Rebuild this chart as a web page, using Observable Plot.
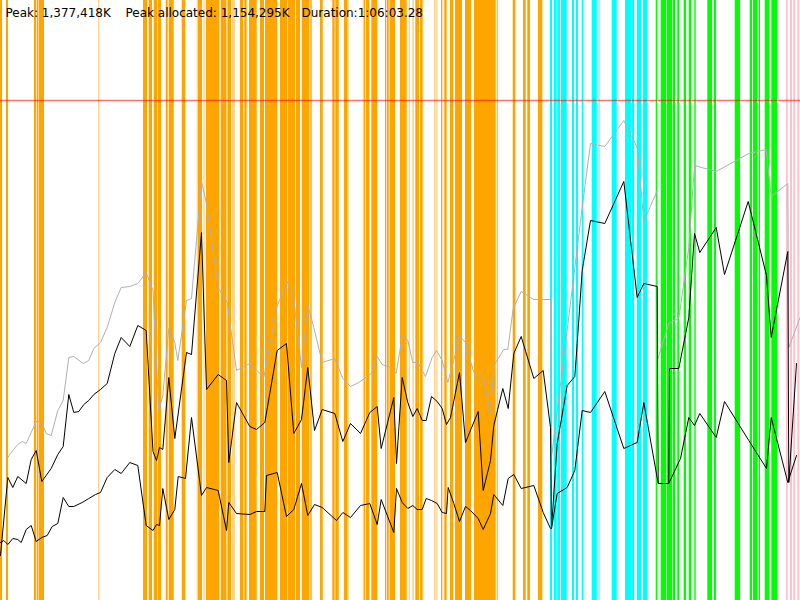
<!DOCTYPE html>
<html><head><meta charset="utf-8">
<script src="https://cdn.jsdelivr.net/npm/d3@7"></script>
<script src="https://cdn.jsdelivr.net/npm/@observablehq/plot@0.6"></script>
<style>html,body{margin:0;padding:0;background:#fff;} #chart svg{display:block}</style>
</head><body><div id="chart"></div>
<script>
// Header statistics
const statLabels = ["Peak: 1,377,418K", "Peak allocated: 1,154,295K", "Duration:1:06:03.28"];

// Time axis: 0..800 units spanning the whole run; memory: 0..500 units where 500 = peak
const peakLevel = 500;

// Activity bands [start, end, light?]
const orangeBands = [[0,2],[6,8],[34,36],[36.7,38.5],[39,44],[98,99.3,1],[143,147],[148.7,152],[153.7,157.3],[158,161],[165.7,167.7],[168.7,173.7],[181.7,185.3],[196.7,198,1],[198,202],[203.3,204.7,1],[206,219.3],[220.7,226],[226,227.5,1],[227.5,231],[232,235,1],[240,243.3],[244.3,246.7],[249,256.7],[260,264],[265,277.3],[280,287],[287.7,295],[296,300],[301.7,309.3],[310.3,311.7],[320,322.7],[332.3,334.7],[335.3,338.7],[344,347.5],[347.5,348.7,1],[362.7,364,1],[364,365],[366,369.3],[371.3,377.3],[385,386],[386.7,388.7],[388.7,390,1],[390,395],[400,406.7],[408.7,410,1],[412.3,414,1],[415.3,419],[420,422.7],[434,435.7,1],[436.7,437.3],[441,442.3],[444.3,446.7],[450,453.3],[455,462],[465,471],[474,495.7],[496.7,497.7],[512.7,515.3],[523,525.7],[527.3,530],[538,542.3]];
const cyanBands = [[550,552],[553.7,556.7],[557.3,560],[561,566.7],[572,574],[576,578],[581.7,583.3],[591.7,596.7],[598.3,600,1],[611.7,616.7],[625,631],[632,634],[636.7,641.3],[643,647.3]];
const greenBands = [[655.7,657],[660.7,666],[666.7,672],[672.7,675],[677.3,679],[683.7,686],[688.7,691],[694.3,695.7],[707.3,712],[713.7,716],[734.7,740],[749.7,752],[753,757.3],[758.7,760],[764.7,769.3],[771.3,777]];
const pinkBands = [[786,787.7],[790,792],[793.3,795],[797.3,799]];

// Committed (gray)
const grayX = [7.3,12.3,17.3,21.7,25.7,30.7,35.7,40.7,45.7,50.7,57.3,62.7,68.3,73.3,82.7,88.3,93.3,100,106.7,114.3,120.7,129.3,137.3,145.7,152.5,158.3,162.3,168.3,174.3,177.3,186,191,201,206,217.7,226.7,236,249.3,263.3,276.7,286.7,293.3,301,307.3,313.3,321.7,334.3,342.3,350,358.3,366.7,371.7,376.7,381.7,390,395.7,401.7,407.3,412.3,417.3,425,431.7,436,441.7,447.3,453.3,459,465,472.7,477.7,482.3,490,493.3,498.3,503.3,507.3,512.7,520.7,533.3,543.3,550,551,581.7,590,604.3,623.3,636.7,643.3,656.7,656.8,668.3,678.3,688.3,694,715.7,748.3,765.7,770.7,787.3,788.3,800];
const grayY = [143,150,156,159,157,168,179,179,167,165,190,200,243,244,237,240,252,258,273,298,313,314,317,328,310,190,205,272,258,240,300,302,419,397,313,298,230,237,223,295,319,302,233,296,273,238,242,222,214,218,224,228,244,236,233,227,264,260,238,238,224,243,250,240,218,240,265,258,230,220,226,187,235,243,251,251,292,309,301,301,301,143,393,457,454,480,453,379,410,240,277,282,353,435,429,447,451,404,417,253,284];

// Used (upper black)
const usedX = [0,7.3,12.3,17.3,25.7,30.7,35.7,41.3,50.7,57.3,62.7,68.3,73.3,78.3,83.3,88.3,93.3,100,106.7,114.3,120.7,129.3,137.3,145.7,152.5,156,159,162.3,168.3,174.3,186,191,201,206,217.7,226,228.3,236,249.3,256,264.3,276.7,286,293.3,301,307.3,314,321.7,334.3,342.3,350,360,369.3,376.7,380.7,393.3,396,401.7,407.3,412.3,416.7,421.7,425.7,431,436.7,441.7,446,450,459,465,477.7,482.7,490,493.3,502.3,507.7,513.3,520.7,533.3,542.7,550,551,556.7,566.7,574.3,576.7,581.7,590,604.3,623.3,636.7,643.3,656.7,657.7,668.3,669,678.3,688.3,694,699.3,715.7,724,747.7,766,770.7,787.3,788.3,796];
const usedY = [45,123,113,124,117,141,150,119,132,146,154,206,188,189,196,200,206,211,217,247,263,254,275,270,149,140,153,151,223,162,248,246,368,211,226,220,138,198,174,171,178,250,257,167,181,233,170,191,187,159,177,167,188,194,152,203,137,223,198,184,192,180,180,204,199,192,176,183,228,158,189,110,140,175,212,192,247,264,222,230,173,72,157,215,224,257,330,380,377,419,303,317,314,117,117,232,232,283,367,348,373,326,399,325,263,349,118,237];

// After-GC (lower black)
const lowX = [0,3.3,7.3,12.3,17.3,20.7,25.7,30.7,35.7,41.3,46.7,51.7,57.3,62.7,68.3,73.3,81.7,88.3,95,100,106.7,114.3,120.7,129.3,137.3,145.7,152.5,156,159,162.3,168.3,174.3,177.7,185,191,201,206,217.7,226,228.3,236,249.3,256,264.3,266,276.7,286,293.3,301,307.3,314,321.7,336,342.3,350,360,369.3,376.7,380.7,393.3,396,401.7,407.3,412.3,416.7,421.7,425.7,431,436.7,441.7,446,447.7,453.3,459,465,470,477.7,482.7,490,493.3,502.3,507.7,513.3,520.7,533.3,542.7,550,551,556.7,566.7,574.3,581.7,590,604.3,623.3,636.7,643.3,657.7,668.3,680,688.3,694,699.3,715.7,724,748.3,766,770.7,787.3,796];
const lowY = [58,60,56,62,61,58,71,75,59,63,65,74,77,103,94,94,98,102,106,108,123,131,127,138,135,75,70,76,75,112,81,91,124,122,183,105,113,110,70,98,87,86,89,89,125,128,84,91,117,85,96,93,80,88,83,95,97,76,101,68,112,98,92,95,91,91,102,100,97,88,87,113,97,79,94,90,82,71,87,106,95,122,126,112,115,88,72,72,107,113,130,190,188,209,152,158,198,117,117,142,183,175,187,163,199,160,132,183,118,145];

const toPts = (xs, ys) => xs.map((t, i) => ({t, m: ys[i]}));
const bandMarks = (bands, color) => [
  Plot.rect(bands.filter(b => !b[2]), {x1: b => b[0], x2: b => b[1], fill: color}),
  Plot.rect(bands.filter(b => b[2]), {x1: b => b[0], x2: b => b[1], fill: color, fillOpacity: 0.45})
];

const labelOffsets = [5, 125, 301];

const chart = Plot.plot({
  width: 800,
  height: 600,
  margin: 0,
  style: {background: "#fff", overflow: "visible"},
  x: {domain: [0, 800], range: [0, 800], axis: null},
  y: {domain: [0, peakLevel], range: [600, 100], axis: null},
  marks: [
    ...bandMarks(orangeBands, "#ffa500"),
    ...bandMarks(cyanBands, "#00ffff"),
    ...bandMarks(greenBands, "#00ff00"),
    ...bandMarks(pinkBands, "#ffc0cb"),
    Plot.ruleY([peakLevel], {stroke: "#ff0000", strokeOpacity: 0.55, strokeWidth: 1.5}),
    Plot.line(toPts(grayX, grayY), {x: "t", y: "m", stroke: "#b0b0b0", strokeWidth: 1}),
    Plot.line(toPts(usedX, usedY), {x: "t", y: "m", stroke: "#000", strokeWidth: 1}),
    Plot.line(toPts(lowX, lowY), {x: "t", y: "m", stroke: "#000", strokeWidth: 1}),
    ...statLabels.map((s, i) => Plot.text([s], {
      frameAnchor: "top-left", lineAnchor: "top", textAnchor: "start",
      dx: labelOffsets[i], dy: 8, fontSize: 12, fill: "#000",
      fontFamily: "DejaVu Sans"
    }))
  ]
});
document.getElementById("chart").appendChild(chart);
</script></body></html>
